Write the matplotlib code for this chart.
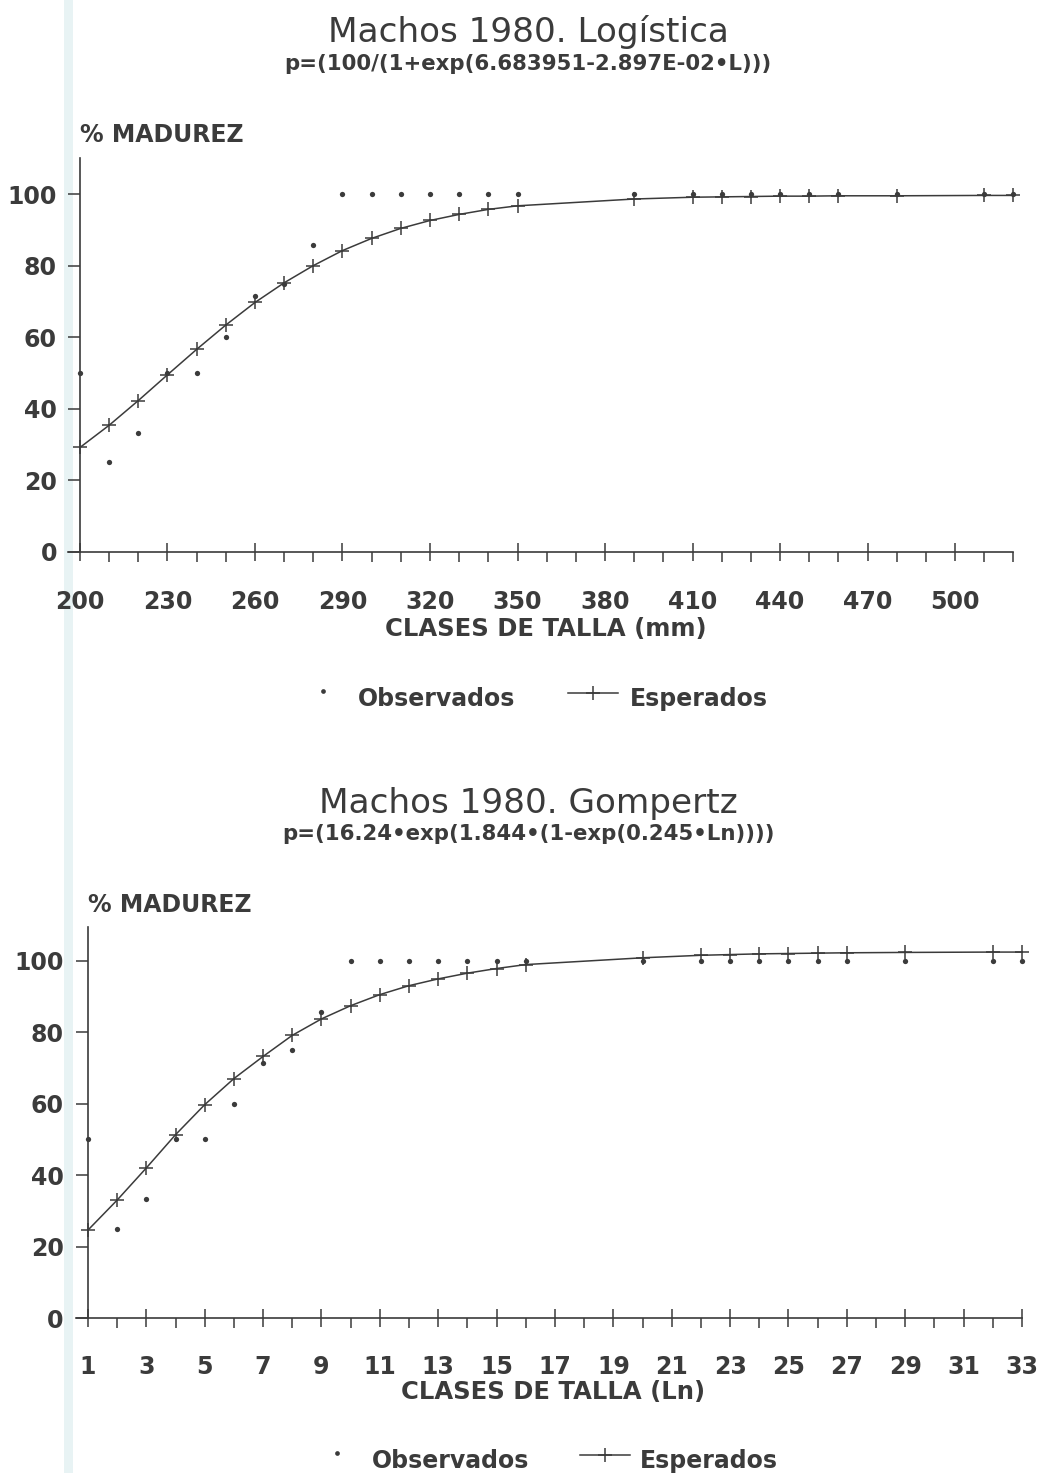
import matplotlib
matplotlib.use('Agg')
import matplotlib.pyplot as plt
from matplotlib.ticker import FixedLocator
from matplotlib.patches import Rectangle

# ---------------- data ----------------
talla_mm = [200, 210, 220, 230, 240, 250, 260, 270, 280, 290, 300, 310, 320,
            330, 340, 350, 390, 410, 420, 430, 440, 450, 460, 480, 510, 520]
clase_ln = [1, 2, 3, 4, 5, 6, 7, 8, 9, 10, 11, 12, 13, 14, 15, 16,
            20, 22, 23, 24, 25, 26, 27, 29, 32, 33]
observados = [50, 25, 33.3, 50, 50, 60, 71.4, 75, 85.7, 100, 100, 100, 100,
              100, 100, 100, 100, 100, 100, 100, 100, 100, 100, 100, 100, 100]
esperados_logistica = [29.2, 35.4, 42.3, 49.5, 56.6, 63.4, 69.7, 75.2, 80.0,
                       84.2, 87.6, 90.4, 92.6, 94.3, 95.7, 96.7, 98.6, 99.1,
                       99.2, 99.3, 99.4, 99.4, 99.5, 99.5, 99.6, 99.6]
esperados_gompertz = [24.6, 33.0, 42.0, 51.3, 59.7, 67.0, 73.2, 79.1, 83.7,
                      87.4, 90.5, 93.0, 94.9, 96.5, 97.8, 98.9, 100.8, 101.5,
                      101.7, 101.9, 102.0, 102.1, 102.2, 102.3, 102.4, 102.4]
xticks_mm = [200, 230, 260, 290, 320, 350, 380, 410, 440, 470, 500]
xminor_mm = list(range(200, 521, 10))
xticks_ln = list(range(1, 34, 2))
xminor_ln = list(range(1, 34))
yticks = [0, 20, 40, 60, 80, 100]

# ---------------- style ----------------
W, H = 1042, 1473
INK = '#3b3b3b'
plt.rcParams['font.family'] = ['DejaVu Sans']
plt.rcParams['font.weight'] = 'bold'

fig = plt.figure(figsize=(W / 100, H / 100), dpi=100)
fig.patch.set_facecolor('white')

ov = fig.add_axes([0, 0, 1, 1])
ov.set_xlim(0, W)
ov.set_ylim(H, 0)
ov.axis('off')
ov.add_patch(Rectangle((64, 0), 9, H, color='#e8f3f4', lw=0, zorder=0))


def px_rect(l, t, r, b):
    return [l / W, (H - b) / H, (r - l) / W, (b - t) / H]


def panel(rect, x, obs, exp, xlim, ytop, yspine, majors, minors, xpad, ypad):
    ax = fig.add_axes(rect)
    ax.patch.set_alpha(0)
    ax.plot(x, exp, color=INK, lw=1.1, marker='+', ms=10, mew=1.1,
            clip_on=False, zorder=3)
    ax.plot(x, obs, ls='none', marker='o', ms=3.8, color=INK, mec='none',
            clip_on=False, zorder=4)
    ax.set_xlim(*xlim)
    ax.set_ylim(0, ytop)
    for s in ['top', 'right']:
        ax.spines[s].set_visible(False)
    for s in ['left', 'bottom']:
        ax.spines[s].set_color(INK)
        ax.spines[s].set_linewidth(1.2)
    ax.spines['left'].set_position(('data', yspine))
    ax.xaxis.set_major_locator(FixedLocator(majors))
    ax.xaxis.set_minor_locator(FixedLocator(minors))
    ax.set_yticks(yticks)
    ax.tick_params(axis='x', which='major', direction='inout', length=13,
                   width=1.1, pad=xpad, labelsize=17, colors=INK)
    ax.tick_params(axis='x', which='minor', direction='out', length=7,
                   width=1.1, colors=INK)
    ax.tick_params(axis='y', direction='out', length=8.6, width=1.1,
                   pad=ypad, labelsize=17, colors=INK)
    for lab in ax.get_xticklabels() + ax.get_yticklabels():
        lab.set_fontweight('bold')
    return ax


# top panel (logistic)
panel(px_rect(68.3, 158.2, 1013.4, 552), talla_mm, observados,
      esperados_logistica, (196, 520), 110, 200, xticks_mm, xminor_mm,
      21, 8)
# bottom panel (Gompertz)
panel(px_rect(76.3, 926.7, 1022, 1318), clase_ln, observados,
      esperados_gompertz, (0.6, 33), 109.5, 1, xticks_ln, xminor_ln,
      20.5, 9)

# ---------------- texts ----------------
def texts(title, sub, ty, sy, ylab_x, ylab_y, xlab, xlab_x, xlab_y):
    ov.text(528, ty, title, ha='center', va='baseline', fontsize=24.7,
            fontweight='normal', color=INK)
    ov.text(528, sy, sub, ha='center', va='baseline', fontsize=15.3,
            fontweight='bold', color=INK)
    ov.text(ylab_x, ylab_y, '% MADUREZ', ha='left', va='baseline',
            fontsize=17, color=INK)
    ov.text(xlab_x, xlab_y, xlab, ha='center', va='baseline', fontsize=17.5,
            color=INK)


texts('Machos 1980. Logística', 'p=(100/(1+exp(6.683951-2.897E-02•L)))',
      42, 70, 80, 142, 'CLASES DE TALLA (mm)', 546, 636)
texts('Machos 1980. Gompertz', 'p=(16.24•exp(1.844•(1-exp(0.245•Ln))))',
      813, 840, 88, 912, 'CLASES DE TALLA (Ln)', 553, 1399)


def legend(dot_x, obs_x, line_x0, line_x1, esp_x, base_y):
    ov.plot([dot_x], [base_y - 15], 'o', ms=3.4, color=INK, mec='none')
    ov.text(obs_x, base_y, 'Observados', ha='left', va='baseline',
            fontsize=17, color=INK)
    ov.plot([line_x0, line_x1], [base_y - 13, base_y - 13], color=INK, lw=1.1)
    ov.plot([(line_x0 + line_x1) / 2], [base_y - 13], marker='+', ms=10,
            mew=1.1, color=INK)
    ov.text(esp_x, base_y, 'Esperados', ha='left', va='baseline',
            fontsize=17, color=INK)


legend(323, 358, 568, 618, 630, 706)
legend(337, 372, 580, 630, 640, 1468)

fig.savefig('out.png', dpi=100, facecolor='white')
